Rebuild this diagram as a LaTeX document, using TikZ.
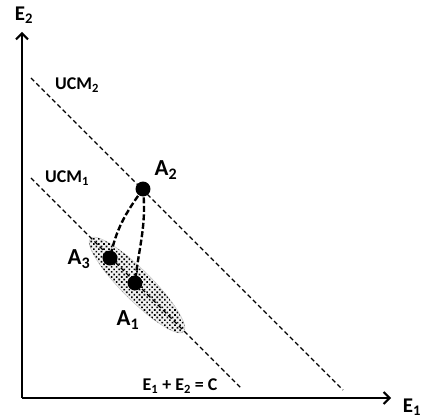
\documentclass[tikz,border=0pt]{standalone}
\usepackage{fontspec}
\setmainfont{Carlito}
\usetikzlibrary{positioning, arrows.meta, patterns.meta}
\tikzset{
    axis/.style={
        line width=2.4pt,
        -{Straight Barb[length=6pt, width=12pt, line width=2pt]},
    },
    ucmline/.style={
        line width=1.4pt, dash pattern=on 4.5pt off 3pt,
    },
    pathline/.style={
        line width=2.4pt, dash pattern=on 6pt off 2.5pt,
    },
    state/.style={
        circle, fill=black, inner sep=0pt, minimum size=15pt,
    },
    axislabel/.style={
        font=\fontsize{21}{22}\selectfont\bfseries,
    },
    ucmlabel/.style={
        font=\fontsize{18}{20}\selectfont\bfseries,
    },
    statelabel/.style={
        font=\fontsize{23}{24}\selectfont\bfseries,
    },
}

\begin{document}
\begin{tikzpicture}[x=1bp, y=1bp]
\useasboundingbox (0,0) rectangle (424,419);

% =============================================
% Axes
% =============================================
\coordinate (orig) at (22,21);
\coordinate (e1tip) at (391,21);
\coordinate (e2tip) at (22,387);
\draw[axis] (orig) -- (e1tip);
\draw[axis] (orig) -- (e2tip);
\node[axislabel] (e1lab) at (412,12) {E\textsubscript{1}};
\node[axislabel] (e2lab) at (24,404) {E\textsubscript{2}};

% =============================================
% UCM lines
% =============================================
\coordinate (ucm1a) at (31,241);
\coordinate (ucm1b) at (242,30);
\coordinate (ucm2a) at (31,341);
\coordinate (ucm2b) at (343,29);

% variability ellipse along UCM1
\path[draw=gray!40, line width=0.6pt, fill=gray!10,
      postaction={pattern={Dots[distance=3.6pt, radius=1.15pt, angle=45]}}]
    (137,134) ellipse[x radius=66, y radius=15, rotate=-45];

\draw[ucmline] (ucm1a) -- (ucm1b);
\draw[ucmline] (ucm2a) -- (ucm2b);
\node[ucmlabel] (ucm1lab) at (67,241) {UCM\textsubscript{1}};
\node[ucmlabel] (ucm2lab) at (77,334) {UCM\textsubscript{2}};
\node[ucmlabel] (eqlab) at (180,33) {E\textsubscript{1} + E\textsubscript{2} = C};

% =============================================
% States and transitions
% =============================================
\node[state] (a2) at (143,230) {};
\node[state] (a3) at (110,161) {};
\node[state] (a1) at (135,136) {};

\draw[pathline] (a2.center) to[out=-126, in=78] (a3.center);
\draw[pathline] (a2.center) to[out=-84, in=84] (a1.center);

\node[statelabel] (a2lab) at (166,249) {A\textsubscript{2}};
\node[statelabel] (a3lab) at (79,160) {A\textsubscript{3}};
\node[statelabel] (a1lab) at (128,99) {A\textsubscript{1}};

\end{tikzpicture}
\end{document}
